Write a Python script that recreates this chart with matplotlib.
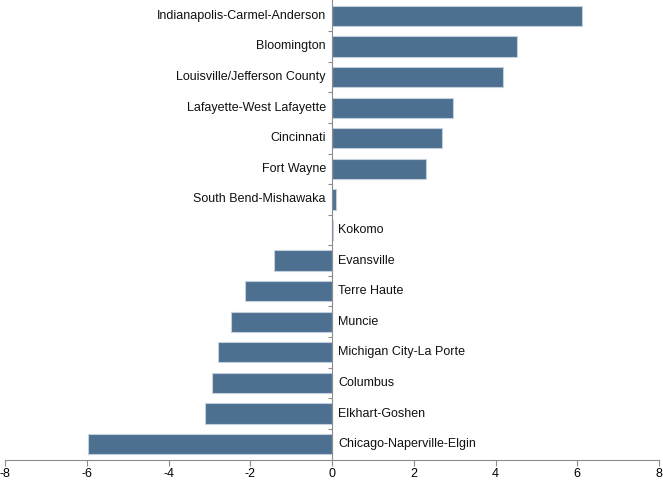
import numpy as np
import matplotlib.pyplot as plt

plt.rcParams['font.family'] = ['Liberation Sans', 'DejaVu Sans']

# metro areas, top to bottom
metros = ['Indianapolis-Carmel-Anderson', 'Bloomington', 'Louisville/Jefferson County',
          'Lafayette-West Lafayette', 'Cincinnati', 'Fort Wayne', 'South Bend-Mishawaka',
          'Kokomo', 'Evansville', 'Terre Haute', 'Muncie', 'Michigan City-La Porte',
          'Columbus', 'Elkhart-Goshen', 'Chicago-Naperville-Elgin']
values = [6.11, 4.52, 4.18, 2.96, 2.68, 2.29, 0.09,
          0.02, -1.43, -2.13, -2.48, -2.79, -2.93, -3.10, -5.97]
x_ticks = [-8, -6, -4, -2, 0, 2, 4, 6, 8]

bar_color = '#4d7091'
axis_color = '#8c8c8c'

fig = plt.figure(figsize=(6.63, 4.8), dpi=100)
ax = fig.add_axes([5 / 663, 20 / 480, 654 / 663, 460 / 480])

y = np.arange(len(metros))
ax.barh(y, values, height=0.66, color=bar_color, edgecolor='#c3d0dc', linewidth=0.8)

# labels next to the zero line, opposite side of the bar
for yi, name, val in zip(y, metros, values):
    if val > 0.05:
        ax.text(-0.15, yi, name, ha='right', va='center', fontsize=9, color='#111111')
    else:
        ax.text(0.15, yi, name, ha='left', va='center', fontsize=9, color='#111111')

ax.set_xlim(-8, 8)
ax.set_ylim(len(metros) - 0.48, -0.52)
ax.set_xticks(x_ticks)
ax.set_xticklabels([str(t) for t in x_ticks], fontsize=9)

# y axis sits at zero with ticks between bars
ax.spines['left'].set_position(('data', 0))
ax.spines['right'].set_visible(False)
ax.spines['top'].set_visible(False)
ax.spines['left'].set_color(axis_color)
ax.spines['bottom'].set_color(axis_color)
ax.set_yticks(np.arange(0.5, len(metros) - 0.5, 1))
ax.set_yticklabels([])
ax.tick_params(axis='y', length=3, color=axis_color, direction='out')
ax.tick_params(axis='x', length=4, color=axis_color, pad=2)

fig.savefig('out.png', dpi=100)
